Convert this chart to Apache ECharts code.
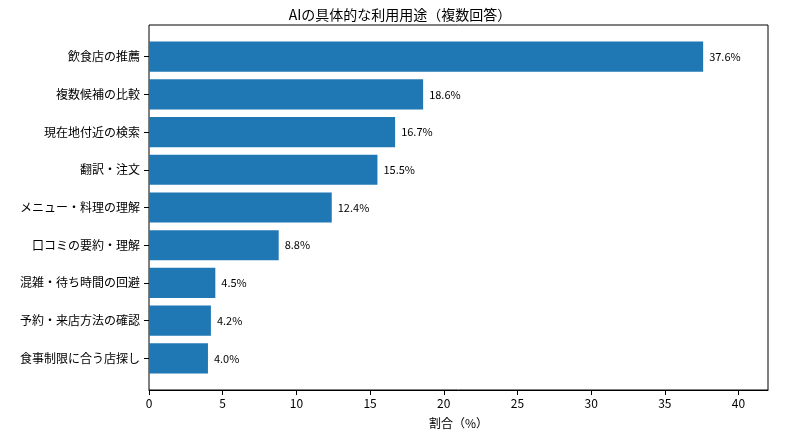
<!DOCTYPE html>
<html>
<head>
<meta charset="utf-8">
<script src="https://cdn.jsdelivr.net/npm/echarts@6/dist/echarts.min.js"></script>
<style>
html,body{margin:0;padding:0;background:#fff;}
#c{width:800px;height:443px;}
</style>
</head>
<body>
<div id="c"></div>
<script>
const categories = ['飲食店の推薦','複数候補の比較','現在地付近の検索','翻訳・注文','メニュー・料理の理解','口コミの要約・理解','混雑・待ち時間の回避','予約・来店方法の確認','食事制限に合う店探し'];
const values = [37.6, 18.6, 16.7, 15.5, 12.4, 8.8, 4.5, 4.2, 4.0];
const xTicks = [0, 5, 10, 15, 20, 25, 30, 35, 40];
const titleText = 'AIの具体的な利用用途（複数回答）';
const xName = '割合（%）';

const FONT = '"Noto Sans CJK JP", "Noto Sans", sans-serif';
const chart = echarts.init(document.getElementById('c'), null, {renderer: 'canvas'});
chart.setOption({
  animation: false,
  backgroundColor: '#fff',
  title: {
    text: titleText, left: 'center', top: 3,
    textStyle: {fontFamily: FONT, fontSize: 14, fontWeight: 'normal', color: '#000'}
  },
  grid: [
    {left: 149, right: 32, top: 25, bottom: 53, show: true, borderColor: '#000', borderWidth: 1, backgroundColor: 'transparent', containLabel: false},
    {left: 149, right: 32, top: 37.8, bottom: 65.8, containLabel: false}
  ],
  xAxis: [
    {
      gridIndex: 0, type: 'value', min: 0, max: 42,
      axisLine: {show: true, lineStyle: {color: '#000', width: 1}},
      axisTick: {show: true, length: 5, customValues: xTicks, lineStyle: {color: '#000', width: 1}},
      axisLabel: {
        fontFamily: FONT, fontSize: 12, color: '#000', margin: 7,
        customValues: xTicks,
        formatter: v => String(v)
      },
      splitLine: {show: false},
      name: xName, nameLocation: 'middle', nameGap: 27,
      nameTextStyle: {fontFamily: FONT, fontSize: 12, color: '#000'}
    },
    {
      gridIndex: 1, type: 'value', min: 0, max: 42, show: false
    }
  ],
  yAxis: [
    {gridIndex: 0, type: 'value', show: false, min: 0, max: 1},
    {
      gridIndex: 1, type: 'category', data: categories, inverse: true,
      axisLine: {show: false},
      axisTick: {show: true, alignWithLabel: true, length: 5, lineStyle: {color: '#000', width: 1}},
      axisLabel: {fontFamily: FONT, fontSize: 12, color: '#000', margin: 9}
    }
  ],
  series: [{
    type: 'bar', xAxisIndex: 1, yAxisIndex: 1,
    data: values, barWidth: '80%',
    itemStyle: {color: '#1f77b4'},
    label: {
      show: true, position: 'right', distance: 6,
      fontFamily: FONT, fontSize: 11, color: '#000',
      formatter: p => p.value.toFixed(1) + '%'
    }
  }]
});
</script>
</body>
</html>
